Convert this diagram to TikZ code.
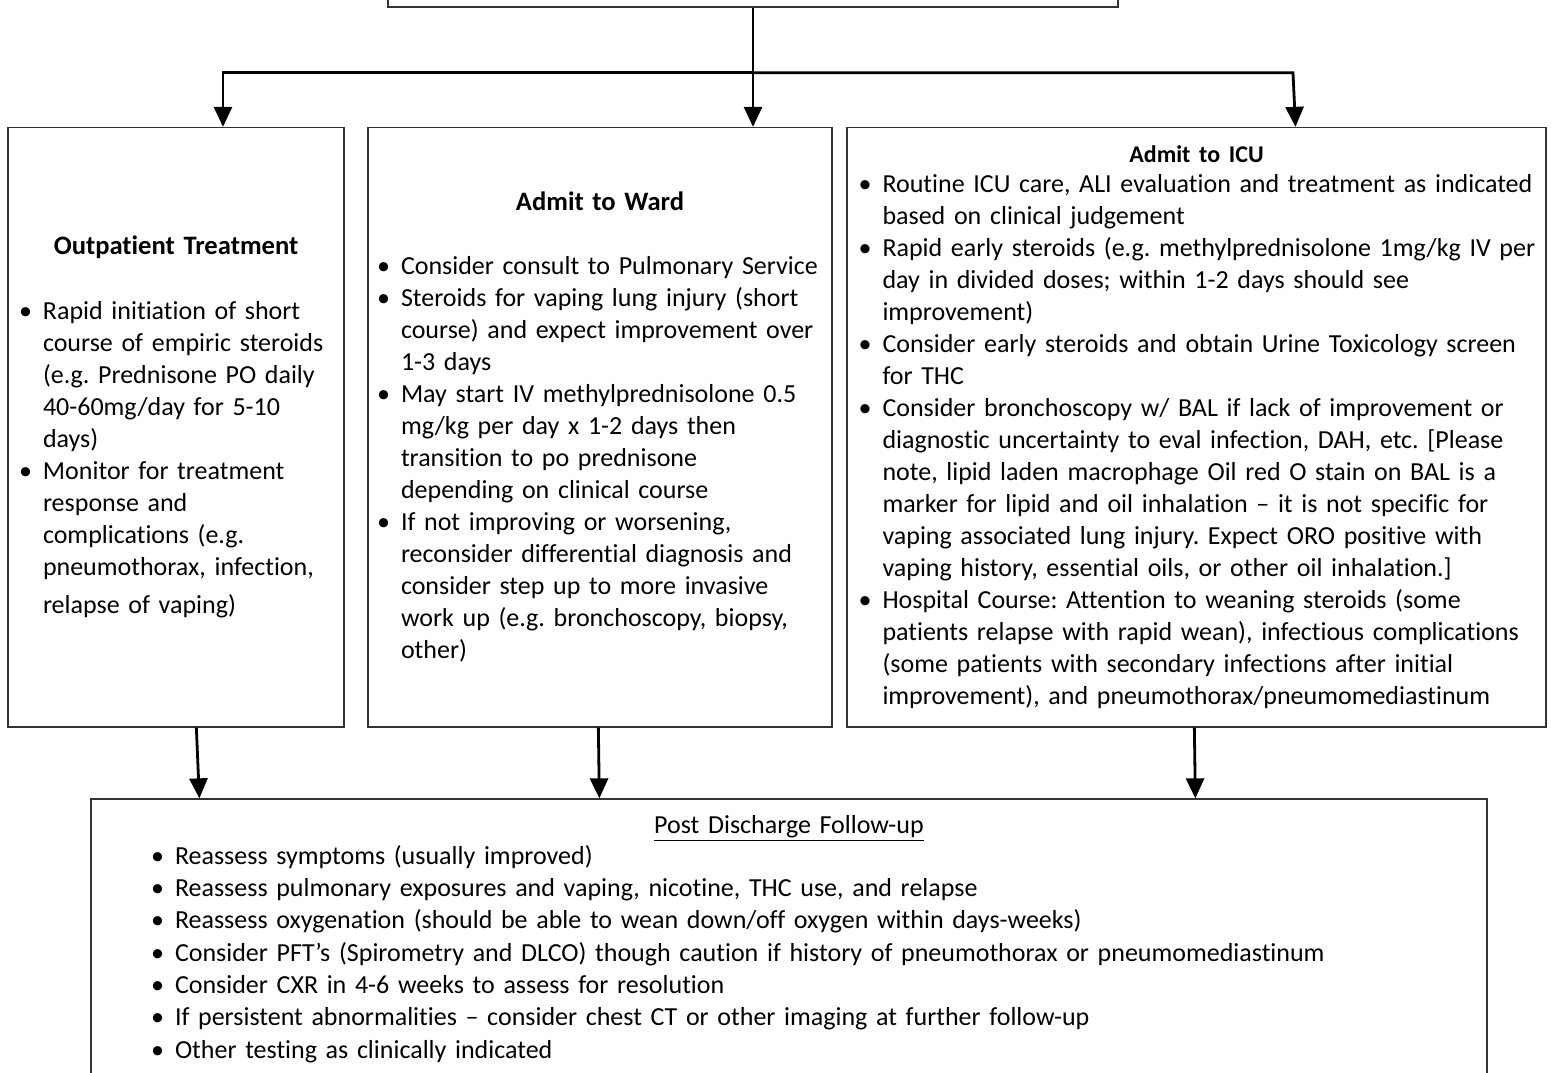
\documentclass[tikz,border=0pt]{standalone}
\usepackage{fontspec}
\setmainfont{Carlito}[Ligatures=NoCommon]
\usetikzlibrary{arrows.meta,calc}

\frenchspacing
\newcommand{\nl}{\unskip\break}
\newcommand{\boxtitle}[1]{\noindent\hbox to\hsize{\hfil#1\hfil}\par}
\newcommand{\bitem}[1]{\hangindent=12pt\hangafter=1\noindent\rightskip=0pt plus 1fil minus 20pt
  \hbox to 12pt{\textbullet\hfil}#1\par}
\newcommand{\postitem}[1]{{\leftskip=30pt\bitem{#1}}}

\begin{document}
\begin{tikzpicture}[
      x=0.5pt, y=-0.5pt,
      box/.style={draw=black!80, line width=0.65pt, inner sep=0pt,
                  minimum height=299.75pt, font=\fontsize{13}{16}\selectfont},
      arr/.style={-{Triangle[length=10pt,width=9pt]}, line width=1.4pt}
    ]
    \useasboundingbox (0,0) rectangle (1551,1072);
    \clip (0,0) rectangle (1551,1072);
    % ------------- top box (cut off) -------------
    \node[box, minimum width=365pt, minimum height=30pt] (top) at (753,-23) {};
    \coordinate (busL) at (223,72.7);
    \coordinate (busM) at (753,72.7);
    \coordinate (busR) at (1293,72.7);
    % ------------- three branches -------------
    \node[box, minimum width=168pt, text width=157pt] (outp) at (176,427.25) {%
      \boxtitle{\fontsize{13.3}{16}\selectfont\bfseries Outpatient Treatment}
      \vspace{16.5pt}
      \bitem{Rapid initiation of short \nl course of empiric steroids \nl
        (e.g. Prednisone PO daily \nl 40-60mg/day for 5-10 \nl days)}
      \bitem{Monitor for treatment \nl response and \nl complications (e.g. \nl
        pneumothorax, infection,\vadjust{\vskip 3pt}\nl relapse of vaping)}};
    \node[box, minimum width=232pt, text width=223pt] (ward) at (600,427.25) {%
      \boxtitle{\fontsize{13.3}{16}\selectfont\bfseries Admit to Ward}
      \vspace{16pt}
      \bitem{Consider consult to Pulmonary Service}
      \bitem{Steroids for vaping lung injury (short \nl course) and expect improvement over \nl 1-3 days}
      \bitem{May start IV methylprednisolone 0.5 \nl mg/kg per day x 1-2 days then \nl
        transition to po prednisone \nl depending on clinical course}
      \bitem{If not improving or worsening, \nl reconsider differential diagnosis and \nl
        consider step up to more invasive \nl work up (e.g. bronchoscopy, biopsy, \nl other)}};
    \node[box, minimum width=349.5pt, text width=338pt] (icu) at (1196.5,427.25) {%
      {\fontsize{12}{14}\selectfont\boxtitle{\textbf{Admit to ICU}}}
      \vspace{-1.2pt}
      \bitem{Routine ICU care, ALI evaluation and treatment as indicated \nl based on clinical judgement}
      \bitem{Rapid early steroids (e.g. methylprednisolone 1mg/kg IV per \nl
        day in divided doses; within 1-2 days should see \nl improvement)}
      \bitem{Consider early steroids and obtain Urine Toxicology screen \nl for THC}
      \bitem{Consider bronchoscopy w/ BAL if lack of improvement or \nl
        diagnostic uncertainty to eval infection, DAH, etc. [Please \nl
        note, lipid laden macrophage Oil red O stain on BAL is a \nl
        marker for lipid and oil inhalation – it is not specific for \nl
        vaping associated lung injury. Expect ORO positive with \nl
        vaping history, essential oils, or other oil inhalation.]}
      \bitem{Hospital Course: Attention to weaning steroids (some \nl
        patients relapse with rapid wean), infectious complications \nl
        (some patients with secondary infections after initial \nl
        improvement), and pneumothorax/pneumomediastinum}};
    % ------------- follow-up box (cut off) -------------
    \node[box, minimum width=698pt, text width=698pt, minimum height=139.75pt,
          font=\fontsize{13}{16.15}\selectfont] (post) at (789,938.75) {%
      \boxtitle{\underline{Post Discharge Follow-up}}
      \vspace{-0.6pt}
      \postitem{Reassess symptoms (usually improved)}
      \postitem{Reassess pulmonary exposures and vaping, nicotine, THC use, and relapse}
      \postitem{Reassess oxygenation (should be able to wean down/off oxygen within days-weeks)}
      \postitem{Consider PFT’s (Spirometry and DLCO) though caution if history of pneumothorax or pneumomediastinum}
      \postitem{Consider CXR in 4-6 weeks to assess for resolution}
      \postitem{If persistent abnormalities – consider chest CT or other imaging at further follow-up}
      \postitem{Other testing as clinically indicated}};
    % ------------- connectors -------------
    \draw[arr] (top.south) -- (busM |- ward.north);
    \draw[arr] (busM) -- (busL) -- (busL |- outp.north);
    \draw[arr] (busM) -- (busR) -- ($(busR |- icu.north)+(2.5,0)$);
    \draw[arr] ($(outp.south west)+(189,0)$) -- ($(outp.south west |- post.north)+(192,0)$);
    \draw[arr] ($(ward.south west)+(231,0)$) -- ($(ward.south west |- post.north)+(232,0)$);
    \draw[arr] ($(icu.south west)+(348,0)$) -- ($(icu.south west |- post.north)+(349,0)$);
  \end{tikzpicture}
\end{document}
